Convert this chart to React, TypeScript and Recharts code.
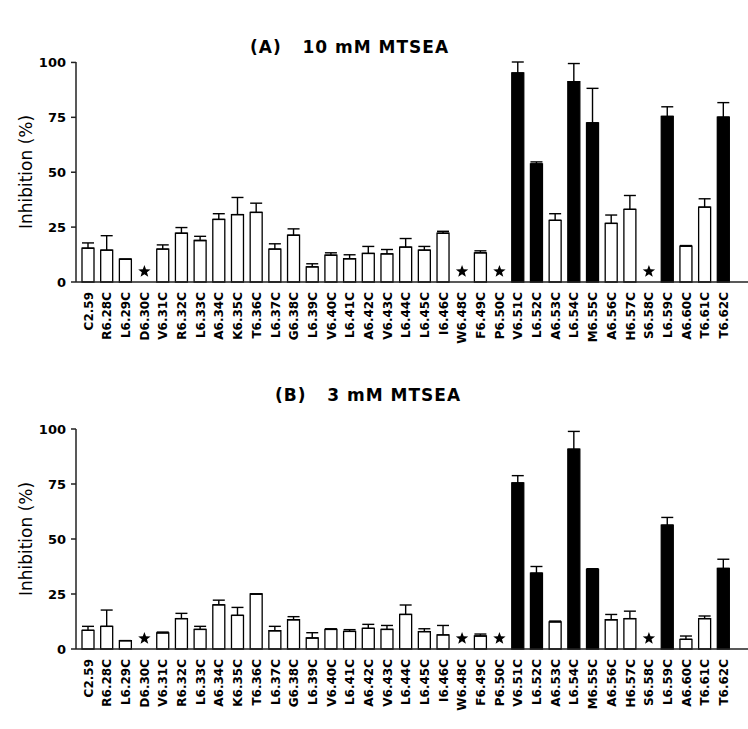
import React from "react";
import { Bar, Cell, ComposedChart, ErrorBar, Scatter, XAxis, YAxis } from "recharts";

const categories = [
  "C2.59", "R6.28C", "L6.29C", "D6.30C", "V6.31C", "R6.32C", "L6.33C", "A6.34C", "K6.35C",
  "T6.36C", "L6.37C", "G6.38C", "L6.39C", "V6.40C", "L6.41C", "A6.42C", "V6.43C", "L6.44C",
  "L6.45C", "I6.46C", "W6.48C", "F6.49C", "P6.50C", "V6.51C", "L6.52C", "A6.53C", "L6.54C",
  "M6.55C", "A6.56C", "H6.57C", "S6.58C", "L6.59C", "A6.60C", "T6.61C", "T6.62C"
];

// null = no current (star)
const valuesA = [
  15.4, 14.5, 10.4, null, 15.0, 22.2, 18.9, 28.5, 30.7, 31.7, 15.0, 21.3, 6.9, 12.2, 10.6, 13.0,
  12.8, 15.9, 14.5, 22.2, null, 13.3, null, 95.2, 53.8, 28.1, 91.2, 72.5, 26.7, 33.1, null, 75.4,
  16.3, 34.1, 75.1
];
const errorsA = [
  2.4, 6.6, 0, null, 1.9, 2.6, 1.9, 2.6, 7.8, 4.2, 2.4, 2.9, 1.4, 1.1, 1.8, 3.2,
  2.0, 3.9, 1.7, 0.9, null, 0.9, null, 5.0, 0.9, 3.0, 8.3, 15.7, 3.8, 6.3, null, 4.4,
  0.3, 3.8, 6.6
];

const valuesB = [
  8.5, 10.3, 3.8, null, 7.3, 13.8, 8.9, 20.1, 15.3, 25.0, 8.3, 13.3, 5.0, 8.9, 8.0, 9.4,
  8.9, 15.7, 7.9, 6.4, null, 5.9, null, 75.5, 34.5, 12.3, 90.8, 36.2, 13.3, 13.8, null, 56.3,
  4.4, 13.8, 36.6
];
const errorsB = [
  1.8, 7.4, 0, null, 0.4, 2.4, 1.4, 2.1, 3.6, 0, 2.0, 1.4, 2.4, 0.3, 0.8, 1.8,
  1.8, 4.3, 1.3, 4.3, null, 0.9, null, 3.3, 3.0, 0.4, 8.1, 0.3, 2.4, 3.4, null, 3.5,
  1.5, 1.2, 4.2
];

const filledCategories = ["V6.51C", "L6.52C", "L6.54C", "M6.55C", "L6.59C", "T6.62C"];
const starLevel = 4.8;
const yTicks = [0, 25, 50, 75, 100];

const FONT = "'DejaVu Sans', sans-serif";

function buildRows(values: (number | null)[], errors: (number | null)[]) {
  return categories.map((name, i) => ({
    name,
    value: values[i],
    err: errors[i] == null ? undefined : [0, errors[i]],
    star: values[i] == null ? starLevel : null
  }));
}

function CategoryTick({ x, y, payload }: any) {
  return (
    <g transform={`translate(${x},${y + 2})`}>
      <text
        transform="rotate(-90)"
        textAnchor="end"
        dy="0.36em"
        fontFamily={FONT}
        fontWeight="bold"
        fontSize={12}
        fill="#000"
      >
        {payload.value}
      </text>
    </g>
  );
}

function StarShape({ cx, cy, payload }: any) {
  if (payload == null || payload.star == null) return <g />;
  const pts: string[] = [];
  for (let k = 0; k < 10; k++) {
    const r = k % 2 === 0 ? 6.5 : 2.7;
    const a = -Math.PI / 2 + (k * Math.PI) / 5;
    pts.push(`${cx + r * Math.cos(a)},${cy + r * Math.sin(a)}`);
  }
  return <polygon points={pts.join(" ")} fill="#000" />;
}

function Panel({ rows }: { rows: ReturnType<typeof buildRows> }) {
  return (
    <ComposedChart
      width={748}
      height={355}
      data={rows}
      margin={{ top: 62, right: 0, bottom: 9, left: 0 }}
      barCategoryGap={0}
    >
      <XAxis
        dataKey="name"
        type="category"
        interval={0}
        tickLine={false}
        height={64}
        padding={{ left: 3, right: 15 }}
        axisLine={{ stroke: "#222", strokeWidth: 1.5 }}
        tick={<CategoryTick />}
      />
      <YAxis
        type="number"
        domain={[0, 100]}
        ticks={yTicks}
        width={76}
        tickSize={5}
        tickMargin={5}
        axisLine={{ stroke: "#222", strokeWidth: 1.5 }}
        tickLine={{ stroke: "#222", strokeWidth: 1.5 }}
        tick={{ fontFamily: FONT, fontWeight: "bold", fontSize: 13, fill: "#000" }}
        label={{
          value: "Inhibition (%)",
          angle: -90,
          position: "insideLeft",
          offset: 26,
          style: { textAnchor: "middle", fontFamily: FONT, fontSize: 17, fill: "#000" }
        }}
      />
      <Bar dataKey="value" barSize={12} stroke="#000" strokeWidth={1.3} isAnimationActive={false}>
        {rows.map((r) => (
          <Cell key={r.name} fill={filledCategories.includes(r.name) ? "#000" : "#fff"} />
        ))}
        <ErrorBar dataKey="err" width={6} stroke="#000" strokeWidth={1.4} direction="y" />
      </Bar>
      <Scatter dataKey="star" shape={<StarShape />} isAnimationActive={false} />
    </ComposedChart>
  );
}

const titleStyle: React.CSSProperties = {
  position: "absolute",
  fontFamily: FONT,
  fontWeight: "bold",
  fontSize: 17,
  letterSpacing: 1,
  whiteSpace: "pre",
  lineHeight: "20px",
  color: "#000"
};

export default function App() {
  const rowsA = buildRows(valuesA, errorsA);
  const rowsB = buildRows(valuesB, errorsB);
  return (
    <div style={{ position: "absolute", left: 0, top: 0, width: 748, height: 729, background: "#fff" }}>
      <div style={{ ...titleStyle, left: 250, top: 37 }}>{"(A)   10 mM MTSEA"}</div>
      <div style={{ ...titleStyle, left: 275, top: 385 }}>{"(B)   3 mM MTSEA"}</div>
      <div style={{ position: "absolute", left: 0, top: 0 }}>
        <Panel rows={rowsA} />
      </div>
      <div style={{ position: "absolute", left: 0, top: 367 }}>
        <Panel rows={rowsB} />
      </div>
    </div>
  );
}
